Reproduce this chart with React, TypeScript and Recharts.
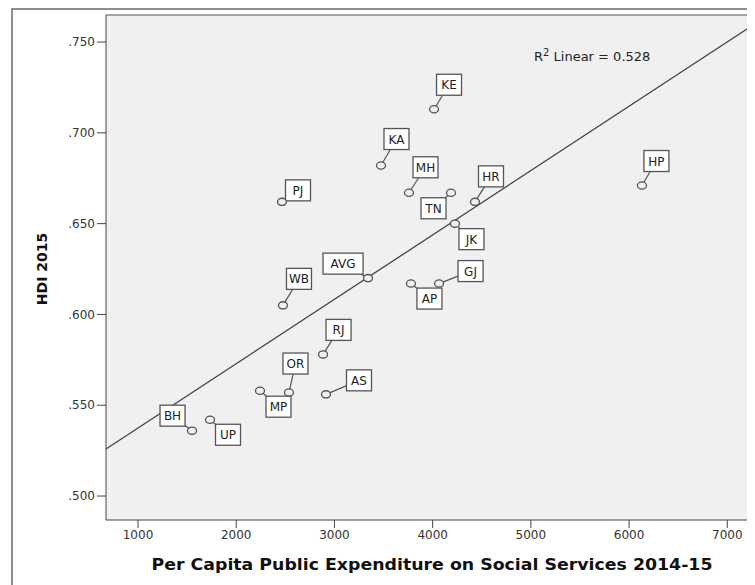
import React from "react";
import {
  CartesianGrid,
  ReferenceLine,
  Scatter,
  ScatterChart,
  XAxis,
  YAxis,
} from "recharts";

// state codes, per capita social spend (Rs) and HDI
const states = ["KE", "KA", "PJ", "MH", "TN", "HR", "HP", "JK", "AVG", "WB", "GJ", "AP", "RJ", "OR", "MP", "AS", "UP", "BH"];
const spending = [4014, 3474, 2466, 3759, 4187, 4431, 6131, 4227, 3342, 2476, 4065, 3779, 2884, 2537, 2242, 2914, 1733, 1550];
const hdi = [0.713, 0.682, 0.662, 0.667, 0.667, 0.662, 0.671, 0.650, 0.620, 0.605, 0.617, 0.617, 0.578, 0.557, 0.558, 0.556, 0.542, 0.536];

const xTicks = [1000, 2000, 3000, 4000, 5000, 6000, 7000];
const yTicks = [0.5, 0.55, 0.6, 0.65, 0.7, 0.75];

// fitted line end points, as drawn by SPSS
const fitLine = [
  { x: 674, y: 0.5259 },
  { x: 7333, y: 0.7619 },
];

const xDomain = [674, 7333];
const yDomain = [0.4868, 0.7649];

// where each label box sits relative to its point (px)
const labelOffset: Record<string, [number, number]> = {
  KE: [15, -24.5],
  KA: [15.5, -26.5],
  PJ: [16, -11.5],
  MH: [16.5, -25.5],
  TN: [-17.5, 15.5],
  HR: [16, -25.5],
  HP: [14.5, -24.5],
  JK: [16.5, 15.5],
  AVG: [-25, -14.5],
  WB: [16, -26.5],
  GJ: [31.5, -12.5],
  AP: [18.5, 15],
  RJ: [15.5, -24.5],
  OR: [6.5, -29],
  MP: [18.5, 16],
  AS: [33, -14],
  UP: [18, 15],
  BH: [-19.5, -15],
};

const data = states.map((s, i) => ({ state: s, x: spending[i], y: hdi[i] }));

const font = "'DejaVu Sans', 'Liberation Sans', Arial, sans-serif";

const LabelledPoint = (props: any) => {
  const { cx, cy, payload } = props;
  const [dx, dy] = labelOffset[payload.state] || [15, -20];
  const w = payload.state.length > 2 ? 40 : 25;
  const h = 21;
  const bx = cx + dx;
  const by = cy + dy;
  return (
    <g>
      <line x1={cx} y1={cy} x2={bx} y2={by} stroke="#555" strokeWidth={1.2} />
      <rect x={bx - w / 2} y={by - h / 2} width={w} height={h} fill="#fff" stroke="#555" strokeWidth={1.3} />
      <text x={bx} y={by + 4.5} textAnchor="middle" fontSize={12} fontFamily={font} fill="#222">
        {payload.state}
      </text>
      <ellipse cx={cx} cy={cy} rx={4.5} ry={3.6} fill="#f0f0f0" stroke="#555" strokeWidth={1.3} />
    </g>
  );
};

export default function App() {
  return (
    <div style={{ position: "relative", width: 747, height: 577, overflow: "hidden", background: "#fff" }}>
      <div
        style={{
          position: "absolute",
          left: 3,
          top: 0,
          width: 800,
          height: 600,
          borderLeft: "2px solid #8c8c8c",
          borderTop: "2px solid #8c8c8c",
        }}
      />
      <ScatterChart width={770} height={577} margin={{ top: 7, right: 18, bottom: 0, left: 0 }}>
        <CartesianGrid fill="#f0f0f0" stroke="none" horizontal={false} vertical={false} />
        <XAxis
          type="number"
          dataKey="x"
          domain={xDomain}
          ticks={xTicks}
          allowDataOverflow
          height={65}
          stroke="#444"
          tickSize={8}
          tickMargin={2}
          tick={{ fill: "#333", fontSize: 12, fontFamily: font }}
          label={(p: any) => (
            <text
              x={p.viewBox.x + p.viewBox.width / 2 - 1}
              y={562}
              textAnchor="middle"
              fontSize={16}
              fontWeight="bold"
              fontFamily={font}
              fill="#111"
              textLength={561}
              lengthAdjust="spacingAndGlyphs"
            >
              Per Capita Public Expenditure on Social Services 2014-15
            </text>
          )}
        />
        <YAxis
          type="number"
          dataKey="y"
          domain={yDomain}
          ticks={yTicks}
          allowDataOverflow
          width={98}
          stroke="#444"
          tickSize={9}
          tickMargin={2}
          tickFormatter={(v: number) => v.toFixed(3).slice(1)}
          tick={{ fill: "#333", fontSize: 12, fontFamily: font }}
          label={() => (
            <text
              x={34}
              y={261}
              transform="rotate(-90 34 261)"
              textAnchor="middle"
              dominantBaseline="central"
              fontSize={14}
              fontWeight="bold"
              fontFamily={font}
              fill="#111"
            >
              HDI 2015
            </text>
          )}
        />
        <ReferenceLine y={yDomain[1]} stroke="#555" strokeWidth={1.2} />
        <ReferenceLine
          segment={fitLine}
          stroke="#444"
          strokeWidth={1.3}
          ifOverflow="hidden"
        />
        <Scatter data={data} isAnimationActive={false} shape={LabelledPoint} />
      </ScatterChart>
      <div
        style={{
          position: "absolute",
          left: 526,
          top: 39,
          fontSize: 13,
          fontFamily: font,
          color: "#222",
          whiteSpace: "nowrap",
        }}
      >
        R<sup style={{ fontSize: 10 }}>2</sup> Linear = 0.528
      </div>
    </div>
  );
}
